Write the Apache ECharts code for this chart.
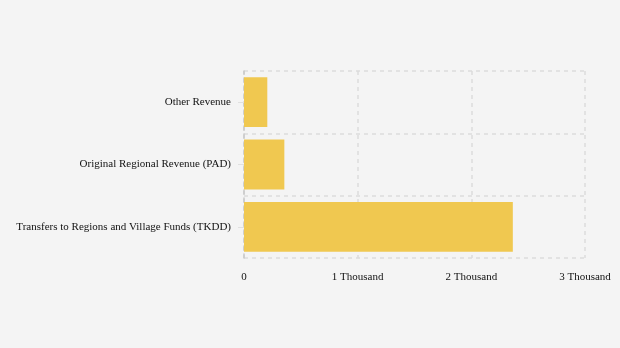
<!DOCTYPE html>
<html><head><meta charset="utf-8">
<script src="https://cdn.jsdelivr.net/npm/echarts@6/dist/echarts.min.js"></script>
<style>html,body{margin:0;padding:0;background:#f4f4f4;}#c{width:620px;height:348px;}</style>
</head><body><div id="c"></div>
<script>
const categories = ["Transfers to Regions and Village Funds (TKDD)", "Original Regional Revenue (PAD)", "Other Revenue"];
const values = [2365, 355, 205];
const tickLabels = {0: "0", 1000: "1 Thousand", 2000: "2 Thousand", 3000: "3 Thousand"};
const chart = echarts.init(document.getElementById('c'));
chart.setOption({
  backgroundColor: '#f4f4f4',
  textStyle: {fontFamily: 'Liberation Serif'},
  grid: {left: 244, right: 35, top: 71, bottom: 90},
  xAxis: {
    type: 'value', min: 0, max: 3000, interval: 1000,
    axisLine: {show: false}, axisTick: {show: false},
    axisLabel: {color: '#111', fontSize: 11, fontFamily: 'Liberation Serif', margin: 14,
      formatter: v => tickLabels[v] !== undefined ? tickLabels[v] : String(v)},
    splitLine: {show: true, lineStyle: {color: '#dcdcdc', type: [4, 4], width: 1.5}}
  },
  yAxis: {
    type: 'category', data: categories,
    axisLine: {show: true, lineStyle: {color: '#c8c8c8', type: [4, 4], width: 1.5}},
    axisTick: {show: true, alignWithLabel: true, length: 6, lineStyle: {color: '#e0e0e0'}},
    axisLabel: {color: '#111', fontSize: 11, fontFamily: 'Liberation Serif', margin: 13},
    splitLine: {show: true, lineStyle: {color: '#dcdcdc', type: [4, 4], width: 1.5}}
  },
  series: [{
    type: 'bar', data: values, barWidth: '80%',
    itemStyle: {color: '#f0c850'}
  }]
});
</script></body></html>
